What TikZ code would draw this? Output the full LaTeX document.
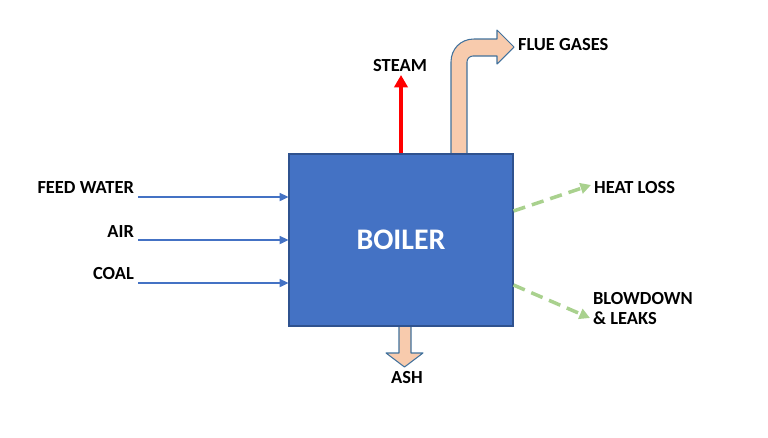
\documentclass[tikz,border=0pt]{standalone}
\usepackage{fontspec}
\setmainfont{Carlito}
\usetikzlibrary{positioning,calc,arrows.meta}
\definecolor{boilerblue}{HTML}{4472C4}
\definecolor{boileredge}{HTML}{2F528F}
\definecolor{peach}{HTML}{F8CBAD}
\definecolor{peachedge}{HTML}{41719C}
\definecolor{lossgreen}{HTML}{A9D18E}
\tikzset{
  lbl/.style={font=\fontsize{10.5}{11.5}\selectfont\bfseries,inner sep=1pt},
  boilerbox/.style={draw=boileredge,fill=boilerblue,line width=0.6pt,
    minimum width=4.48cm,minimum height=3.44cm,text=white,
    font=\fontsize{17}{20}\selectfont\bfseries},
  feedarrow/.style={draw=boilerblue,line width=1.1pt,-{Triangle[length=5pt,width=4.5pt]}},
  steamarrow/.style={draw=red,line width=2.3pt,-{Triangle[length=7pt,width=7.5pt]}},
  lossarrow/.style={draw=lossgreen,line width=2pt,dash pattern=on 7pt off 4pt,
    -{Triangle[length=6pt,width=6pt]}},
  blockarrow/.style={draw=peachedge,fill=peach,line width=0.6pt,line join=round},
}
\begin{document}
\begin{tikzpicture}[x=0.02cm,y=-0.02cm]
  \useasboundingbox (0,0) rectangle (768,437);

  % flue gases and ash
  \draw[blockarrow] (451,154) -- (451,62) .. controls (451,49.3) and (460.3,39) .. (474,39)
     -- (497,39) -- (497,30) -- (514,47) -- (497,64) -- (497,56) -- (473,56)
     .. controls (469.7,56) and (467,58.7) .. (467,62) -- (467,154) -- cycle;
  \draw[blockarrow] (399,326) -- (399,353) -- (386,353) -- (404.5,367) -- (423,353)
     -- (411,353) -- (411,326) -- cycle;

  \node[boilerbox] (boiler) at (401,240) {BOILER};

  % inputs
  \node[lbl,anchor=base east] (feed) at (136,193) {FEED WATER};
  \node[lbl,anchor=base east] (air)  at (136,237) {AIR};
  \node[lbl,anchor=base east] (coal) at (136,279) {COAL};
  \coordinate (feedin) at (138,197);
  \coordinate (airin)  at (138,240);
  \coordinate (coalin) at (138,283);
  \draw[feedarrow] (feedin) -- (feedin -| boiler.west);
  \draw[feedarrow] (airin) -- (airin -| boiler.west);
  \draw[feedarrow] (coalin) -- (coalin -| boiler.west);

  % outputs
  \node[lbl] (steam) at (400,66) {STEAM};
  \coordinate (steamtip) at (401,75);
  \draw[steamarrow] (steamtip |- boiler.north) -- (steamtip);
  \node[lbl,anchor=west] (flue) at (516,45) {FLUE GASES};
  \node[lbl] (ash) at (407,378) {ASH};

  % losses
  \node[lbl,anchor=west] (heat) at (592,188) {HEAT LOSS};
  \node[lbl,anchor=north west,align=left] (blow) at (591,290) {BLOWDOWN\\\& LEAKS};
  \coordinate (heatend) at (591,185);
  \coordinate (blowend) at (590,318);
  \draw[lossarrow] (boiler.east |- 0,211) -- (heatend);
  \draw[lossarrow] (boiler.east |- 0,285) -- (blowend);

\end{tikzpicture}
\end{document}
